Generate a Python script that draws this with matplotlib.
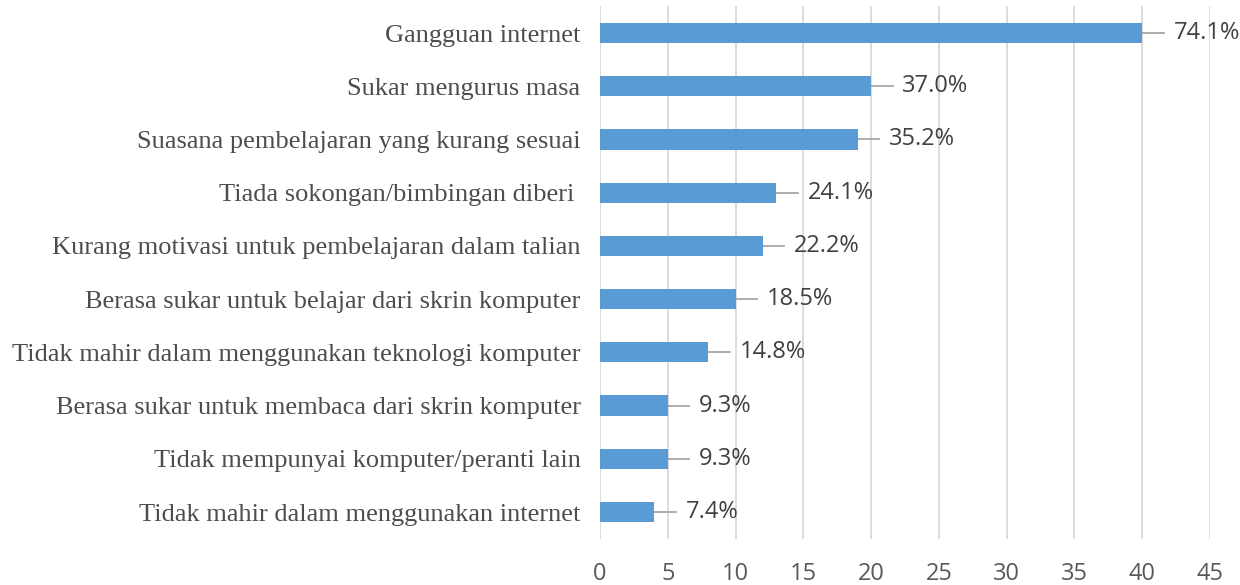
import matplotlib
matplotlib.use("Agg")
import matplotlib.pyplot as plt

categories = [
    "Gangguan internet",
    "Sukar mengurus masa",
    "Suasana pembelajaran yang kurang sesuai",
    "Tiada sokongan/bimbingan diberi ",
    "Kurang motivasi untuk pembelajaran dalam talian",
    "Berasa sukar untuk belajar dari skrin komputer",
    "Tidak mahir dalam menggunakan teknologi komputer",
    "Berasa sukar untuk membaca dari skrin komputer",
    "Tidak mempunyai komputer/peranti lain",
    "Tidak mahir dalam menggunakan internet",
]
counts = [40, 20, 19, 13, 12, 10, 8, 5, 5, 4]
pct_labels = ["74.1%", "37.0%", "35.2%", "24.1%", "22.2%",
              "18.5%", "14.8%", "9.3%", "9.3%", "7.4%"]
xticks = [0, 5, 10, 15, 20, 25, 30, 35, 40, 45]

fig = plt.figure(figsize=(12.4, 5.85), dpi=100)
ax = fig.add_axes([0.4839, 0.0793, 0.4919, 0.9097])

y = list(range(len(categories)))
ax.barh(y, counts, height=0.38, color="#5B9BD5", zorder=3)
ax.set_ylim(len(categories) - 0.5, -0.5)
ax.set_xlim(0, 45)
ax.set_xticks(xticks)
ax.set_yticks(y)
ax.set_yticklabels(categories, fontfamily="Liberation Serif", fontsize=19,
                   color="#4D4D4D")
ax.tick_params(axis="y", length=0, pad=14)
ax.tick_params(axis="x", length=0, pad=17, labelsize=17, labelcolor="#595959")
for lbl in ax.get_xticklabels():
    lbl.set_fontfamily("Open Sans")

ax.grid(axis="x", color="#D9D9D9", linewidth=1.3, zorder=0)
for s in ax.spines.values():
    s.set_visible(False)

for yi, v, lab in zip(y, counts, pct_labels):
    ax.plot([v, v + 1.6], [yi, yi], color="#A6A6A6", linewidth=1.3, zorder=2)
    ax.text(v + 2.3, yi, lab, va="center", ha="left", fontsize=17,
            fontfamily="Open Sans", color="#404040")

fig.savefig("out.png", dpi=100)
